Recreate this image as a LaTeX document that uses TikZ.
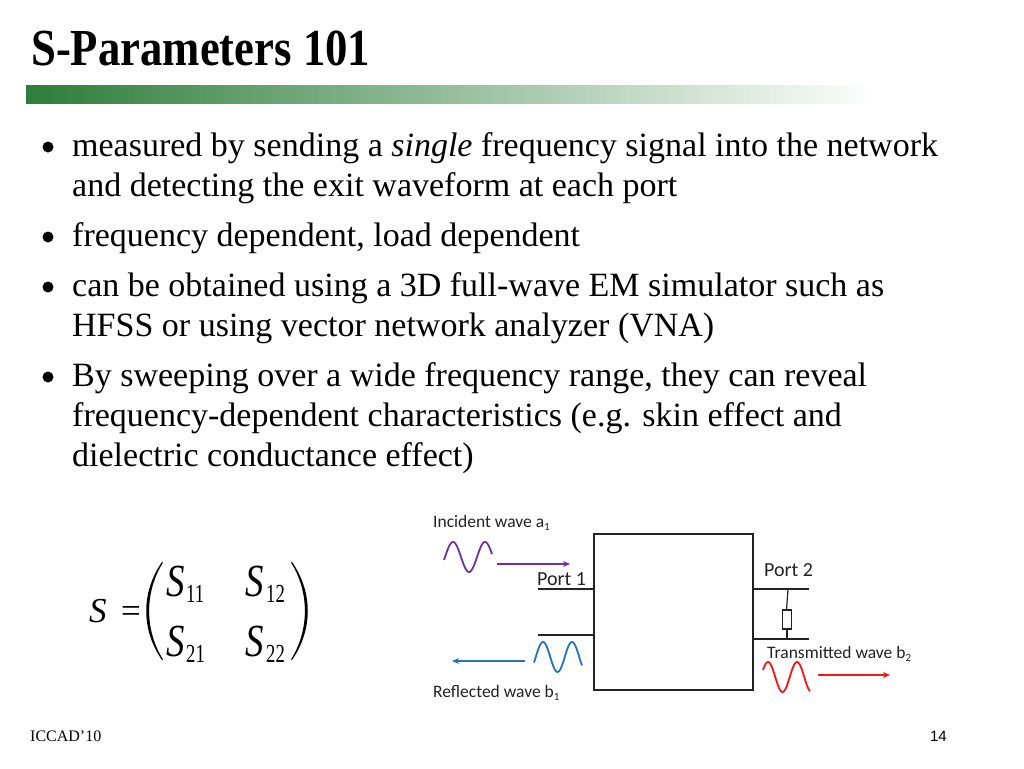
\documentclass[tikz,border=0pt]{standalone}
\usepackage{fontspec}
\setmainfont{Liberation Serif}
\newfontfamily\calib{Carlito}
\newfontfamily\arialf{Liberation Sans}
\usetikzlibrary{arrows.meta}
\definecolor{bargreen}{RGB}{45,125,58}
\definecolor{wpurple}{RGB}{112,48,160}
\definecolor{wblue}{RGB}{35,115,190}
\definecolor{wred}{RGB}{250,20,20}
\definecolor{dgray}{RGB}{35,35,35}
\begin{document}
\begin{tikzpicture}[x=1pt,y=-1pt,
  body/.style={anchor=base west,inner sep=0pt,font=\fontsize{34}{34}\selectfont},
  bul/.style={circle,fill=black,inner sep=0pt,minimum size=11pt},
  lab/.style={anchor=base west,inner sep=0pt,text=dgray,font=\calib\fontsize{17.5}{17.5}\selectfont},
  plab/.style={anchor=base west,inner sep=0pt,text=dgray,font=\calib\fontsize{20}{20}\selectfont},
  wire/.style={draw=dgray,line width=1.4pt},
  wave/.style={line width=1.8pt,smooth},
  warrow/.style={line width=1.5pt,-{Stealth[length=7pt,width=6pt]}},
  mS/.style={anchor=base west,inner sep=0pt},
]
\useasboundingbox (0,0) rectangle (1024,768);
\fill[white] (0,0) rectangle (1024,768);
% title
\node[anchor=base west,inner sep=0pt] (title) at (31,66) {\scalebox{0.86}[1]{\bfseries\fontsize{52}{52}\selectfont S-Parameters 101}};
\shade[left color=bargreen,right color=white] (26,85) rectangle (877,103);
% bullets
\node[bul] (d1) at (48,147) {};
\node[body] (t1) at (72,156) {measured by sending a \textit{single} frequency signal into the network};
\node[body] (t2) at (72,196) {and detecting the exit waveform at each port};
\node[bul] (d2) at (48,237) {};
\node[body] (t3) at (72,246) {frequency dependent, load dependent};
\node[bul] (d3) at (48,287) {};
\node[body] (t4) at (72,296) {can be obtained using a 3D full-wave EM simulator such as};
\node[body] (t5) at (72,336) {HFSS or using vector network analyzer (VNA)};
\node[bul] (d4) at (48,377) {};
\node[body] (t6) at (72,386) {By sweeping over a wide frequency range, they can reveal};
\node[body] (t7) at (72,426) {frequency-dependent characteristics (e.g. skin effect and};
\node[body] (t8) at (72,466) {dielectric conductance effect)};
% matrix
\node[mS] (seqS) at (89,622) {\fontsize{35}{35}\selectfont\textit{S}};
\node[anchor=base east,inner sep=0pt] (seqE) at (141,622) {\fontsize{35}{35}\selectfont =};
\node[mS] (s11) at (166,596) {\scalebox{0.8}[1]{\fontsize{46}{46}\selectfont\textit{S}}};
\node[mS] (n11) at (186,602) {\scalebox{0.72}[1]{\fontsize{26}{26}\selectfont 11}};
\node[mS] (s12) at (245,596) {\scalebox{0.8}[1]{\fontsize{46}{46}\selectfont\textit{S}}};
\node[mS] (n12) at (266,602) {\scalebox{0.72}[1]{\fontsize{26}{26}\selectfont 12}};
\node[mS] (s21) at (166,656) {\scalebox{0.8}[1]{\fontsize{46}{46}\selectfont\textit{S}}};
\node[mS] (n21) at (186,662) {\scalebox{0.72}[1]{\fontsize{26}{26}\selectfont 21}};
\node[mS] (s22) at (245,656) {\scalebox{0.8}[1]{\fontsize{46}{46}\selectfont\textit{S}}};
\node[mS] (n22) at (266,662) {\scalebox{0.72}[1]{\fontsize{26}{26}\selectfont 22}};
\fill (162,562) .. controls (141,592) and (141,630) .. (162,660)
      -- (163,659.5) .. controls (144.5,630) and (144.5,592) .. (163,562.5) -- cycle;
\fill (292,562) .. controls (313,592) and (313,630) .. (292,660)
      -- (291,659.5) .. controls (309.5,630) and (309.5,592) .. (291,562.5) -- cycle;
% network diagram
\draw[wire] (594,534) rectangle (753,690);
\coordinate (p1a) at (538,589); \coordinate (p1b) at (538,635);
\coordinate (p2a) at (809,589); \coordinate (p2b) at (809,639);
\draw[wire] (p1a) -- (594,589);
\draw[wire] (p1b) -- (594,635);
\draw[wire] (753,589) -- (p2a);
\draw[wire] (753,639) -- (p2b);
\draw[draw=dgray,line width=1.2pt] (788,589) -- (786.5,610);
\draw[draw=dgray,line width=1.2pt] (782.5,610) rectangle (791.5,629);
\draw[draw=dgray,line width=1.2pt] (787,629) -- (787,639);
% labels
\node[lab] (inc) at (433,527) {Incident wave a\raisebox{-3pt}{\fontsize{11}{11}\selectfont 1}};
\node[plab] (port1) at (537,585) {Port 1};
\node[plab] (port2) at (764,576) {Port 2};
\node[lab] (trans) at (767,658) {Transmitted wave b\raisebox{-3pt}{\fontsize{11}{11}\selectfont 2}};
\node[lab] (refl) at (433,697) {Reflected wave b\raisebox{-3pt}{\fontsize{11}{11}\selectfont 1}};
% waves
\draw[wave,wpurple] plot[domain=444:492,samples=60] (\x,{557-15*cos(360*(\x-453)/32)});
\draw[wave,wblue] plot[domain=534:582,samples=60] (\x,{657-15*cos(360*(\x-543)/29)});
\draw[wave,wred] plot[domain=763:810,samples=60] (\x,{677-15*cos(360*(\x-768)/29)});
\coordinate (pa) at (497,564); \coordinate (pb) at (570,564);
\coordinate (ba) at (525,661); \coordinate (bb) at (452,661);
\coordinate (ra) at (818,675); \coordinate (rb) at (890,675);
\draw[warrow,wpurple] (pa) -- (pb);
\draw[warrow,wblue] (ba) -- (bb);
\draw[warrow,wred] (ra) -- (rb);
% footer
\node[anchor=base west,inner sep=0pt,font=\fontsize{16}{16}\selectfont] (foot) at (30,741) {ICCAD’10};
\node[anchor=base east,inner sep=0pt,font=\arialf\fontsize{15}{15}\selectfont] (page) at (947,741) {14};
\end{tikzpicture}
\end{document}
